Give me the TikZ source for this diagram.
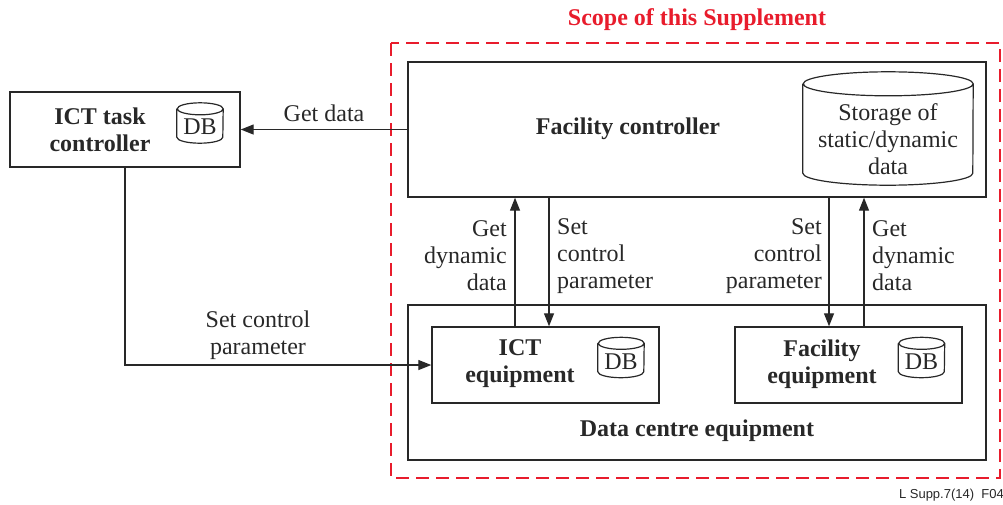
\documentclass[tikz,border=0pt]{standalone}
\usepackage{fontspec}
\setmainfont{Liberation Serif}
\newfontfamily\footfont{Liberation Sans}
\usetikzlibrary{arrows.meta,positioning}
\definecolor{scopered}{RGB}{232,28,44}
\definecolor{ink}{RGB}{40,40,40}

% cylinder outline round a named (invisible) node: name, x radius, y radius
\newcommand\cylout[3]{%
  \draw[cylline] ([yshift=-#3]#1.north west) -- ([yshift=#3]#1.south west)
    arc[start angle=180, end angle=360, x radius=#2, y radius=#3]
    -- ([yshift=-#3]#1.north east)
    arc[start angle=0, end angle=360, x radius=#2, y radius=#3];}

\begin{document}
\begin{tikzpicture}[x=1pt,y=-1pt,
  every node/.style = {font=\fontsize{24}{27}\selectfont, align=center,
    inner sep=0pt, text=ink},
  box/.style = {draw=ink, line width=1.4pt},
  cylline/.style = {draw=ink, line width=1.2pt},
  dbspot/.style = {minimum width=46pt, minimum height=40pt},
  arr/.style = {draw=ink, line width=1.3pt, -{Triangle[length=13pt,width=10pt]}}]
  \useasboundingbox (0,0) rectangle (1003,504);

  % scope of the supplement
  \draw[scopered, line width=2.8pt, dash pattern=on 13pt off 7pt]
    (391,43) rectangle (1000,478);
  \node[text=scopered, font=\fontsize{24}{27}\selectfont\bfseries] (scope) at (697,20)
    {Scope of this Supplement};

  % ICT task controller
  \node[box, minimum width=230pt, minimum height=75pt] (ictc) at (125,129.5) {};
  \node[font=\fontsize{24}{27}\selectfont\bfseries] (ictct) at (100,130) {ICT task\\controller};
  \node[dbspot] (ictcdb) at (200,123) {};
  \cylout{ictcdb}{23pt}{6pt}
  \node (ictcdbt) at (200,127) {DB};

  % facility controller
  \node[box, minimum width=578pt, minimum height=135pt] (fc) at (697,129.5) {};
  \node[font=\fontsize{24}{27}\selectfont\bfseries] (fct) at (628,129) {Facility controller};
  \node[minimum width=170pt, minimum height=113pt] (stor) at (888,128.5) {};
  \cylout{stor}{85pt}{12pt}
  \node (stort) at (888,139.5) {Storage of\\static/dynamic\\data};

  % data centre equipment
  \node[box, minimum width=578pt, minimum height=155pt] (dce) at (697,382.5) {};
  \node[font=\fontsize{24}{27}\selectfont\bfseries] (dcet) at (697,431) {Data centre equipment};

  \node[box, minimum width=227pt, minimum height=76pt] (icte) at (545.5,365) {};
  \node[font=\fontsize{24}{27}\selectfont\bfseries] (ictet) at (520,364) {ICT\\equipment};
  \node[dbspot] (ictedb) at (621,357.5) {};
  \cylout{ictedb}{23pt}{6pt}
  \node (ictedbt) at (621,361.5) {DB};

  \node[box, minimum width=227pt, minimum height=76pt] (fe) at (848.5,365) {};
  \node[font=\fontsize{24}{27}\selectfont\bfseries] (fet) at (822,364) {Facility\\equipment};
  \node[dbspot] (fedb) at (921.5,357.5) {};
  \cylout{fedb}{23pt}{6pt}
  \node (fedbt) at (921.5,361.5) {DB};

  % connectors
  \draw[arr] (fc.west |- ictc.east) -- (ictc.east)
    node[midway, above=7pt] (getd) {Get data};
  \draw[arr] (ictc.south) |- (icte.west);
  \node (setc) at (258,335.5) {Set control\\parameter};

  \draw[arr] ([xshift=-30.5pt]icte.north) -- ([xshift=-30.5pt]icte.north |- fc.south);
  \draw[arr] ([xshift=3.5pt]icte.north |- fc.south) -- ([xshift=3.5pt]icte.north);
  \draw[arr] ([xshift=-19.5pt]fe.north |- fc.south) -- ([xshift=-19.5pt]fe.north);
  \draw[arr] ([xshift=15.5pt]fe.north) -- ([xshift=15.5pt]fe.north |- fc.south);

  \node[anchor=east, align=right] (getl) at (507,256) {Get\\dynamic\\data};
  \node[anchor=west, align=left] (setl) at (557,256) {Set\\control\\parameter};
  \node[anchor=east, align=right] (setr) at (822,256) {Set\\control\\parameter};
  \node[anchor=west, align=left] (getr) at (872,256) {Get\\dynamic\\data};

  % figure tag
  \node[anchor=east, font=\fontsize{13}{15}\footfont] (tag) at (1004,495) {L Supp.7(14)\ \ F04};
\end{tikzpicture}
\end{document}
